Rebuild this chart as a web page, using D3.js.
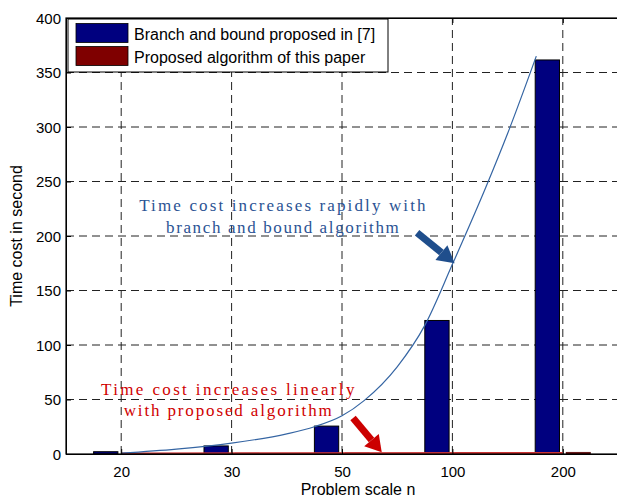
<!DOCTYPE html>
<html>
<head>
<meta charset="utf-8">
<script src="https://cdn.jsdelivr.net/npm/d3@7"></script>
<style>
  body { margin: 0; background: #fff; }
  svg { display: block; }
</style>
</head>
<body>
<div id="chart"></div>
<script>
// values
const categories = ["20", "30", "50", "100", "200"];
const branchBound = [2.1, 7.4, 25.6, 122.5, 361.5];
const proposed = [0.7, 0.8, 1.0, 1.3, 1.6];
const seriesNames = ["Branch and bound proposed in [7]", "Proposed algorithm of this paper"];
const yTicks = [0, 50, 100, 150, 200, 250, 300, 350, 400];

// trend curves drawn on the figure, [category position, seconds]
const bbTrendT = [1.0, 1.5, 2.0, 2.5, 2.75, 3.0, 3.2, 3.5, 3.75, 4.0, 4.3, 4.5, 4.76];
const bbTrendV = [0.8, 4.5, 10, 18.5, 25, 35, 49, 80, 118, 174, 244, 294, 365];
const propTrendT = [1.0, 5.0];
const propTrendV = [0.5, 1.0];

const width = 617, height = 499;
const padLeft = 66, padRight = 618, padTop = 18, padBottom = 454;

const svg = d3.select("#chart").append("svg")
    .attr("width", width).attr("height", height)
    .style("font-family", "'Liberation Sans', Arial, sans-serif");

const x = d3.scaleLinear().domain([0.5, 5.5]).range([padLeft, padRight]);
const y = d3.scaleLinear().domain([0, 400]).range([padBottom, padTop]);
const idx = categories.map((c, i) => i + 1);

const blue = "#00007f", red = "#7f0000";
const barW = 0.22, barOff = 0.14;

//Grid
const grid = svg.append("g").attr("stroke", "#222").attr("stroke-width", 1)
    .attr("stroke-dasharray", "8,5").attr("fill", "none");
grid.selectAll(".gx").data(idx).enter().append("line")
    .attr("x1", d => x(d)).attr("x2", d => x(d))
    .attr("y1", y(0)).attr("y2", y(400));
grid.selectAll(".gy").data(yTicks.slice(1, -1)).enter().append("line")
    .attr("x1", padLeft).attr("x2", padRight)
    .attr("y1", d => y(d)).attr("y2", d => y(d));

//Bars
const bars = svg.append("g");
bars.selectAll(".bb").data(branchBound).enter().append("rect")
    .attr("x", (d, i) => x(idx[i] - barOff - barW / 2))
    .attr("width", x(barW) - x(0))
    .attr("y", d => y(d))
    .attr("height", d => y(0) - y(d))
    .attr("fill", blue).attr("stroke", "#000").attr("stroke-width", 1);
bars.selectAll(".pr").data(proposed).enter().append("rect")
    .attr("x", (d, i) => x(idx[i] + barOff - barW / 2))
    .attr("width", x(barW) - x(0))
    .attr("y", d => y(d))
    .attr("height", d => y(0) - y(d))
    .attr("fill", red).attr("stroke", "#400000").attr("stroke-width", 0.6);

//Trend curves
const line = d3.line().x(d => x(d[0])).y(d => y(d[1])).curve(d3.curveMonotoneX);
svg.append("path").datum(d3.zip(propTrendT, propTrendV))
    .attr("d", line).attr("fill", "none").attr("stroke", "#cc3333").attr("stroke-width", 2);
svg.append("path").datum(d3.zip(bbTrendT, bbTrendV))
    .attr("d", line).attr("fill", "none").attr("stroke", "#3565a3").attr("stroke-width", 1.2);

//Axes
const xAxis = d3.axisBottom(x).tickValues(idx).tickFormat((d, i) => categories[i])
    .tickSizeInner(-5).tickSizeOuter(0).tickPadding(12);
const yAxis = d3.axisLeft(y).tickValues(yTicks).tickSizeInner(-5).tickSizeOuter(0).tickPadding(5);
const xg = svg.append("g").attr("transform", `translate(0,${padBottom})`).call(xAxis);
const yg = svg.append("g").attr("transform", `translate(${padLeft},0)`).call(yAxis);
svg.append("g").attr("transform", `translate(0,${padTop})`)
    .call(d3.axisTop(x).tickValues(idx).tickFormat("").tickSizeInner(-5).tickSizeOuter(0));
[xg, yg].forEach(g => {
  g.selectAll("text").attr("font-size", 15).attr("fill", "#000")
      .style("font-family", "'Liberation Sans', Arial, sans-serif");
  g.select(".domain").attr("stroke", "#000");
});
yg.selectAll("text").attr("dy", "0.35em");
svg.append("rect").attr("x", padLeft).attr("y", padTop)
    .attr("width", padRight - padLeft).attr("height", padBottom - padTop)
    .attr("fill", "none").attr("stroke", "#000").attr("stroke-width", 1.2);

svg.append("text").text("Problem scale n")
    .attr("x", (padLeft + padRight) / 2 + 16).attr("y", 495)
    .attr("text-anchor", "middle").attr("font-size", 16);
svg.append("text").text("Time cost in second")
    .attr("transform", `translate(22, ${(padTop + padBottom) / 2}) rotate(-90)`)
    .attr("text-anchor", "middle").attr("font-size", 16);

//Annotations, in data coordinates
function arrow(t0, v0, t1, v1, color, shaft, headLen, headW) {
  const x0 = x(t0), y0 = y(v0), x1 = x(t1), y1 = y(v1);
  const len = Math.hypot(x1 - x0, y1 - y0);
  const ux = (x1 - x0) / len, uy = (y1 - y0) / len;
  const bx = x1 - ux * headLen, by = y1 - uy * headLen;
  svg.append("line").attr("x1", x0).attr("y1", y0).attr("x2", bx).attr("y2", by)
      .attr("stroke", color).attr("stroke-width", shaft);
  svg.append("path")
      .attr("d", `M${x1},${y1}L${bx - uy * headW / 2},${by + ux * headW / 2}` +
                 `L${bx + uy * headW / 2},${by - ux * headW / 2}Z`)
      .attr("fill", color);
}

const noteFont = "'Liberation Serif', 'DejaVu Serif', serif";
const blueNote = ["Time cost increases rapidly with", "branch and bound algorithm"];
const blueNoteV = [223, 202.5];
const redNote = ["Time cost increases linearly", "with proposed algorithm"];
const redNoteV = [54, 35];

svg.selectAll(".bn").data(blueNote).enter().append("text")
    .text(d => d)
    .attr("x", x(2.46)).attr("y", (d, i) => y(blueNoteV[i]))
    .attr("text-anchor", "middle").attr("font-size", 17)
    .attr("textLength", d => d.length * 8.95).attr("lengthAdjust", "spacing")
    .attr("fill", "#2b5394").style("font-family", noteFont);
svg.selectAll(".rn").data(redNote).enter().append("text")
    .text(d => d)
    .attr("x", x(1.965)).attr("y", (d, i) => y(redNoteV[i]))
    .attr("text-anchor", "middle").attr("font-size", 17)
    .attr("textLength", d => d.length * 9.05).attr("lengthAdjust", "spacing")
    .attr("fill", "#d00000").style("font-family", noteFont);

arrow(3.68, 203, 4.02, 175, "#1f4e8c", 7, 17, 19);
arrow(3.10, 33, 3.36, 1.5, "#cc0000", 7, 16, 19);

//Legend
const legend = svg.append("g");
legend.append("rect").attr("x", 68).attr("y", 19).attr("width", 320).attr("height", 53)
    .attr("fill", "#fff").attr("stroke", "#000").attr("stroke-width", 1);
const colors = [blue, red];
seriesNames.forEach((name, i) => {
  legend.append("rect").attr("x", 76).attr("y", 23.5 + i * 23).attr("width", 52).attr("height", 19)
      .attr("fill", colors[i]).attr("stroke", "#000").attr("stroke-width", 0.8);
  legend.append("text").text(name).attr("x", 134).attr("y", 40 + i * 23)
      .attr("font-size", 16).attr("fill", "#000");
});
</script>
</body>
</html>
